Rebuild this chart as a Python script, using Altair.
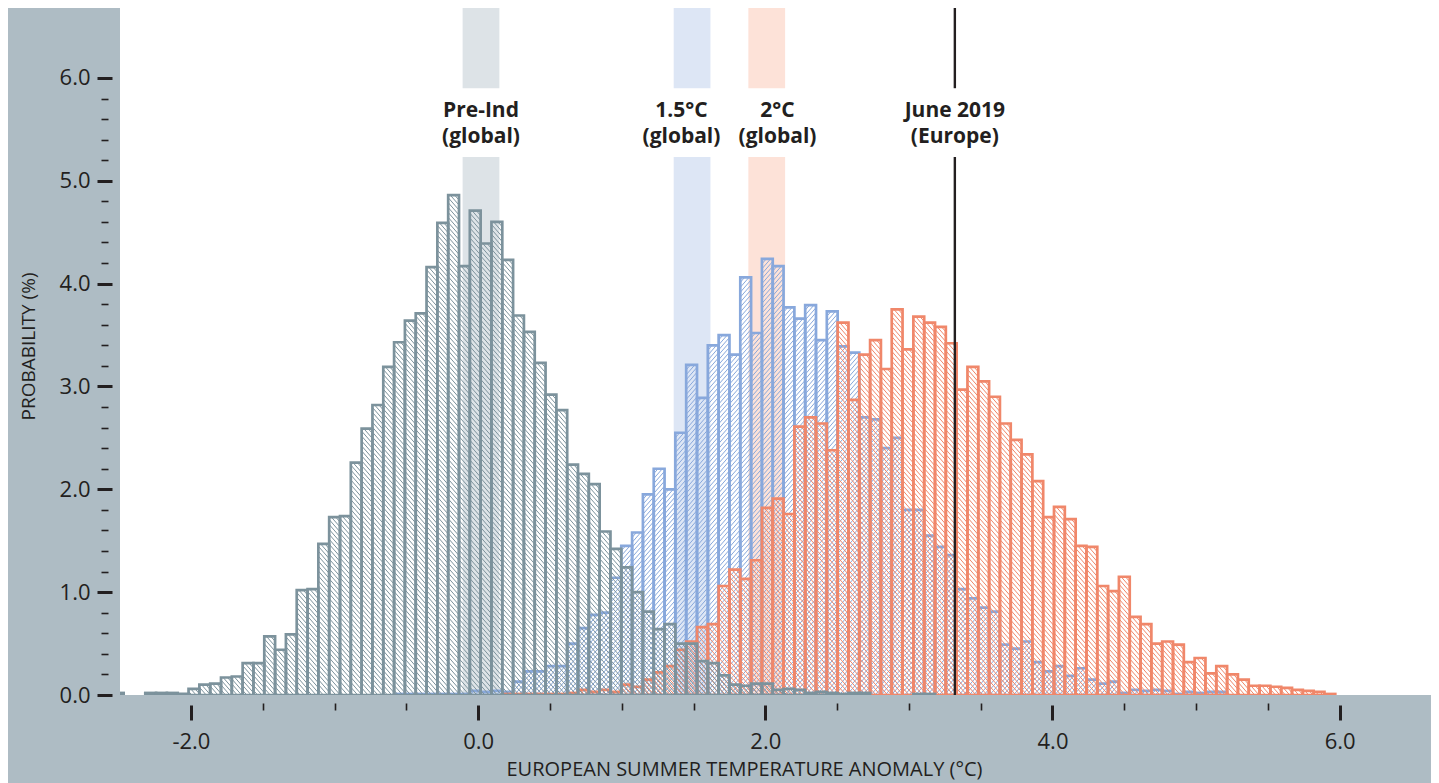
import altair as alt
import pandas as pd

# ---------------- data ----------------
BIN_START = -2.544   # left edge of first bin (deg C)
BIN_WIDTH = 0.07534  # bin width (deg C)

pre_industrial = [
    0.02, 0, 0, 0.02, 0.02, 0.02, 0.01, 0.06, 0.10, 0.11,
    0.17, 0.18, 0.31, 0.31, 0.57, 0.44, 0.59, 1.02, 1.03, 1.47,
    1.73, 1.74, 2.26, 2.59, 2.82, 3.19, 3.43, 3.64, 3.71, 4.16,
    4.59, 4.86, 4.17, 4.71, 4.39, 4.60, 4.23, 3.69, 3.53, 3.23,
    2.92, 2.77, 2.24, 2.15, 2.05, 1.59, 1.42, 1.24, 1.00, 0.81,
    0.64, 0.69, 0.50, 0.50, 0.33, 0.31, 0.19, 0.10, 0.09, 0.11,
    0.11, 0.05, 0.06, 0.05, 0.02, 0.03, 0.02, 0.01, 0.02, 0.02,
    0, 0, 0, 0, 0.01, 0.01,
]

global_15 = [0] * 26 + [
    0.01, 0.01, 0.01, 0.01, 0.01, 0.01, 0.01, 0.04, 0.03, 0.04,
    0.03, 0.13, 0.23, 0.23, 0.28, 0.28, 0.50, 0.65, 0.78, 0.80,
    1.14, 1.45, 1.58, 1.95, 2.20, 2.00, 2.55, 3.21, 2.89, 3.40,
    3.50, 3.31, 4.06, 3.52, 4.24, 4.17, 3.77, 3.66, 3.79, 3.45,
    3.73, 3.39, 3.33, 2.70, 2.68, 2.40, 2.50, 1.80, 1.80, 1.55,
    1.44, 1.36, 1.03, 0.94, 0.85, 0.81, 0.49, 0.45, 0.52, 0.32,
    0.23, 0.28, 0.185, 0.26, 0.15, 0.11, 0.13, 0.02, 0.05, 0.04,
    0.05, 0.04, 0.01, 0.03, 0.02, 0.03, 0.03,
]

global_20 = [0] * 36 + [
    0.01, 0.01, 0.01, 0.01, 0.01, 0.01, 0.02, 0.05, 0.03, 0.05,
    0.03, 0.10, 0.08, 0.15, 0.22, 0.28, 0.44, 0.52, 0.66, 0.69,
    1.06, 1.22, 1.13, 1.31, 1.82, 1.91, 1.76, 2.61, 2.70, 2.64,
    2.38, 3.62, 2.87, 3.31, 3.45, 3.17, 3.75, 3.36, 3.68, 3.62,
    3.58, 3.42, 2.97, 3.19, 3.05, 2.90, 2.64, 2.48, 2.34, 2.08,
    1.73, 1.83, 1.71, 1.45, 1.44, 1.06, 1.01, 1.15, 0.76, 0.69,
    0.50, 0.52, 0.49, 0.32, 0.36, 0.21, 0.28, 0.20, 0.15, 0.09,
    0.09, 0.08, 0.07, 0.05, 0.04, 0.03, 0.01,
]

band_names = ["Pre-Ind", "1.5°C", "2°C"]
band_centers = [0.02, 1.49, 2.01]
june_2019 = [3.32]

label_texts = ["Pre-Ind\n(global)", "1.5°C\n(global)", "2°C\n(global)", "June 2019\n(Europe)"]
label_x = [0.02, 1.416, 2.085, 3.32]

x_major = [-2.0, 0.0, 2.0, 4.0, 6.0]
x_minor = [-1.5, -1.0, -0.5, 0.5, 1.0, 1.5, 2.5, 3.0, 3.5, 4.5, 5.0, 5.5]
y_major = [0.0, 1.0, 2.0, 3.0, 4.0, 5.0, 6.0]
y_minor = [round(0.2 * i, 1) for i in range(31) if i % 5 != 0]

# ---------------- styles / layout ----------------
FONT = "Open Sans"
INK = "#231f20"
BG = "#aebcc4"
GREY = "#7c929c"
BLUE = "#88a8dc"
ORANGE = "#f0876a"
BAND_COLORS = ["#dde3e7", "#dde6f5", "#fde2d8"]

X_DOMAIN = [-2.494, 6.636]
Y_DOMAIN = [0, 6.68]
BAND_HALF = 0.128
GAP_LO, GAP_HI = 5.23, 5.9
LABEL_Y = 5.68
HATCH_S = 0.048   # vertical spacing of hatch lines (data units)
HATCH_D = 0.12    # vertical drop of a hatch line across one bin
HATCH_W = 1.0
OUT_W = 2.7

XS = alt.Scale(domain=X_DOMAIN, nice=False, zero=False)
YS = alt.Scale(domain=Y_DOMAIN, nice=False, zero=False)

X_MAJOR_AXIS = alt.Axis(
    values=x_major, orient="bottom",
    labelExpr="(datum.value < 0 ? '-' : '') + format(abs(datum.value), '.1f')",
    tickSize=15, tickWidth=3, tickColor=INK, domain=False, grid=False, offset=10,
    labelFont=FONT, labelFontSize=22, labelColor=INK, labelPadding=11,
    labelFlush=False, labelOverlap=False, labelBound=False,
    title="EUROPEAN SUMMER TEMPERATURE ANOMALY (°C)",
    titleFont=FONT, titleFontSize=20, titleFontWeight="normal", titleColor=INK,
    titleX=624, titleY=54, titleBaseline="top", titleAlign="center",
)
X_MINOR_AXIS = alt.Axis(
    values=x_minor, orient="bottom", labels=False, title=None,
    tickSize=7, tickWidth=1.6, tickColor=INK, domain=False, grid=False, offset=8,
)
Y_MAJOR_AXIS = alt.Axis(
    values=y_major, orient="left",
    labelExpr="format(datum.value, '.1f')",
    tickSize=15, tickWidth=3, tickColor=INK, domain=False, grid=False, offset=8,
    labelFont=FONT, labelFontSize=22, labelColor=INK, labelPadding=7,
    labelOverlap=False, labelBound=False, labelFlush=False,
    title="PROBABILITY (%)",
    titleFont=FONT, titleFontSize=19, titleFontWeight="normal", titleColor=INK,
    titleAngle=270, titleX=-78, titleY=338, titleBaseline="alphabetic", titleAlign="center",
)
Y_MINOR_AXIS = alt.Axis(
    values=y_minor, orient="left", labels=False, title=None,
    tickSize=7, tickWidth=1.6, tickColor=INK, domain=False, grid=False, offset=12,
)

# ---------------- bands ----------------
band_df = pd.DataFrame({"name": band_names, "center": band_centers})
band_color = alt.Color("name:N", scale=alt.Scale(domain=band_names, range=BAND_COLORS), legend=None)

bands_lo = alt.Chart(band_df).transform_calculate(
    bx0=f"datum.center - {BAND_HALF}", bx1=f"datum.center + {BAND_HALF}",
    by0="0", by1=str(GAP_LO),
).mark_rect(clip=True).encode(
    x=alt.X("bx0:Q", scale=XS, axis=X_MAJOR_AXIS), x2="bx1:Q",
    y=alt.Y("by0:Q", scale=YS, axis=Y_MAJOR_AXIS), y2="by1:Q",
    color=band_color,
)
bands_hi = alt.Chart(band_df).transform_calculate(
    bx0=f"datum.center - {BAND_HALF}", bx1=f"datum.center + {BAND_HALF}",
    by0=str(GAP_HI), by1=str(Y_DOMAIN[1]),
).mark_rect(clip=True).encode(
    x=alt.X("bx0:Q", scale=XS, axis=X_MINOR_AXIS), x2="bx1:Q",
    y=alt.Y("by0:Q", scale=YS, axis=Y_MINOR_AXIS), y2="by1:Q",
    color=band_color,
)


# ---------------- histograms ----------------
def hist_layers(vals, color, slant):
    df = pd.DataFrame({
        "x0": [BIN_START + i * BIN_WIDTH for i in range(len(vals))],
        "x1": [BIN_START + (i + 1) * BIN_WIDTH for i in range(len(vals))],
        "h": vals,
    })
    df = df[df["h"] > 0].reset_index(drop=True)
    base = alt.Chart(df)
    if slant == "back":
        xa = "datum.x0 + datum.fa * (datum.x1 - datum.x0)"
        xb = "datum.x0 + datum.fb * (datum.x1 - datum.x0)"
    else:
        xa = "datum.x1 - datum.fa * (datum.x1 - datum.x0)"
        xb = "datum.x1 - datum.fb * (datum.x1 - datum.x0)"
    hatch = (
        base.transform_calculate(ks=f"sequence(0, ceil((datum.h + {HATCH_D}) / {HATCH_S}))")
        .transform_flatten(["ks"])
        .transform_calculate(t=f"datum.ks * {HATCH_S} - {HATCH_D}")
        .transform_filter("datum.t < datum.h")
        .transform_calculate(
            fa=f"max(0, -datum.t / {HATCH_D})",
            fb=f"min(1, (datum.h - datum.t) / {HATCH_D})",
        )
        .transform_filter("datum.fb > datum.fa")
        .transform_calculate(
            ya=f"datum.h - datum.t - {HATCH_D} * datum.fa",
            yb=f"datum.h - datum.t - {HATCH_D} * datum.fb",
            xa=xa, xb=xb,
        )
        .mark_rule(color=color, strokeWidth=HATCH_W, clip=True)
        .encode(
            x=alt.X("xa:Q", scale=XS, axis=None), x2="xb:Q",
            y=alt.Y("ya:Q", scale=YS, axis=None), y2="yb:Q",
        )
    )
    outline = (
        base.transform_calculate(base0="0")
        .mark_rect(fill=color, fillOpacity=0, stroke=color, strokeWidth=OUT_W, clip=True)
        .encode(
            x=alt.X("x0:Q", scale=XS, axis=None), x2="x1:Q",
            y=alt.Y("h:Q", scale=YS, axis=None), y2="base0:Q",
        )
    )
    return [hatch, outline]


blue_layers = hist_layers(global_15, BLUE, "fwd")
orange_layers = hist_layers(global_20, ORANGE, "back")
grey_layers = hist_layers(pre_industrial, GREY, "back")

# ---------------- June 2019 line ----------------
june_df = pd.DataFrame({"x": june_2019})
june_lo = alt.Chart(june_df).transform_calculate(ly0="0", ly1=str(GAP_LO)).mark_rule(
    color=INK, strokeWidth=2.4, clip=True
).encode(x=alt.X("x:Q", scale=XS, axis=None), y=alt.Y("ly0:Q", scale=YS, axis=None), y2="ly1:Q")
june_hi = alt.Chart(june_df).transform_calculate(ly0=str(GAP_HI), ly1=str(Y_DOMAIN[1])).mark_rule(
    color=INK, strokeWidth=2.4, clip=True
).encode(x=alt.X("x:Q", scale=XS, axis=None), y=alt.Y("ly0:Q", scale=YS, axis=None), y2="ly1:Q")

# ---------------- labels ----------------
lab_df = pd.DataFrame({"text": label_texts, "x": label_x})
labels = alt.Chart(lab_df).transform_calculate(ty=str(LABEL_Y)).mark_text(
    font=FONT, fontSize=21, fontWeight="bold", color=INK,
    align="center", baseline="middle", lineBreak="\n", lineHeight=26,
).encode(
    x=alt.X("x:Q", scale=XS, axis=None), y=alt.Y("ty:Q", scale=YS, axis=None), text="text:N",
)

chart = alt.layer(
    bands_lo, bands_hi,
    *blue_layers, *orange_layers, *grey_layers,
    june_lo, june_hi, labels,
).resolve_axis(
    x="independent", y="independent"
).properties(
    width=1311, height=687,
    padding={"left": 112, "top": 0, "right": 0, "bottom": 88},
    autosize=alt.AutoSizeParams(type="none"),
    background=BG,
).configure_view(fill="white", strokeWidth=0)

chart.save("out.html", embed_options={"renderer": "svg", "actions": False})
